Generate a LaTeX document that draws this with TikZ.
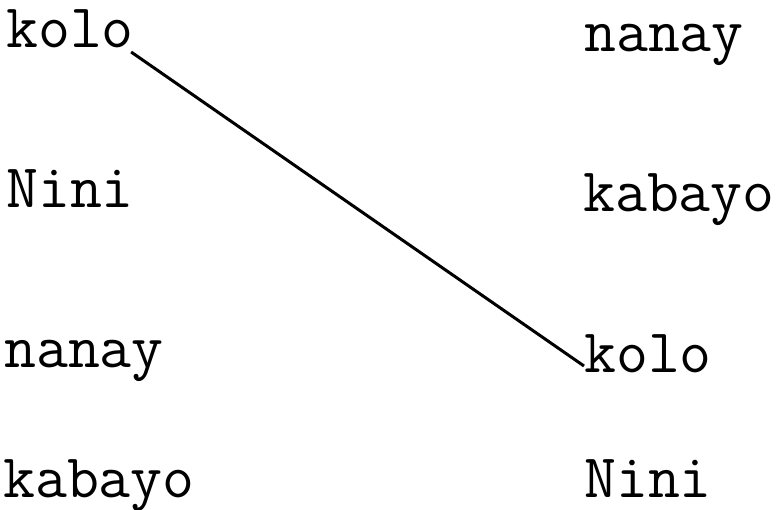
\documentclass[tikz,border=0pt]{standalone}
\usepackage{fontspec}
\usepackage{tikz}
\usetikzlibrary{positioning}
\tikzset{
  word/.style={
    inner sep=0pt, anchor=base west,
    font=\ttfamily\fontsize{62}{70}\selectfont,
  },
  match/.style={line width=3pt, black},
}

\begin{document}
\begin{tikzpicture}[x=1pt, y=-1pt]
  \useasboundingbox (0,0) rectangle (776,510);

  % Left column
  \node[word] (lkolo)   at (6,48)   {kolo};
  \node[word] (lnini)   at (6,208)  {Nini};
  \node[word] (lnanay)  at (4,367)  {nanay};
  \node[word] (lkabayo) at (3,497)  {kabayo};

  % Right column
  \node[word] (rnanay)  at (584,52)  {nanay};
  \node[word] (rkabayo) at (583,212) {kabayo};
  \node[word] (rkolo)   at (584,373) {kolo};
  \node[word] (rnini)   at (584,497) {Nini};

  % Matching line
  \draw[match] ([xshift=-3pt, yshift=-4pt]lkolo.base east) -- ([yshift=7pt]rkolo.base west);

\end{tikzpicture}
\end{document}
